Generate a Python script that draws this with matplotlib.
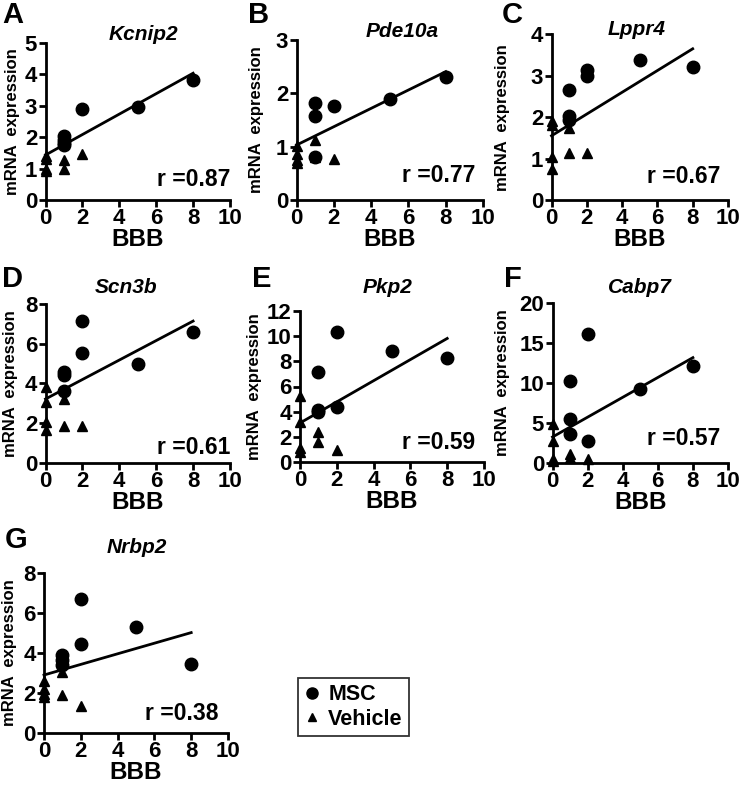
import matplotlib
matplotlib.use("Agg")
import matplotlib.pyplot as plt
from matplotlib.lines import Line2D

plt.rcParams['font.family'] = ['Liberation Sans', 'DejaVu Sans']
plt.rcParams['font.weight'] = 'bold'

# ---------------- data ----------------
panel_letters = ['A', 'B', 'C', 'D', 'E', 'F', 'G']
genes = ['Kcnip2', 'Pde10a', 'Lppr4', 'Scn3b', 'Pkp2', 'Cabp7', 'Nrbp2']
r_labels = ['r =0.87', 'r =0.77', 'r =0.67', 'r =0.61', 'r =0.59', 'r =0.57', 'r =0.38']
y_max = [5, 3, 4, 8, 12, 20, 8]
y_step = [1, 1, 1, 2, 2, 5, 2]
x_ticks = [0, 2, 4, 6, 8, 10]

msc_x = [
    [1, 1, 1, 1, 2, 5, 8],
    [1, 1, 1, 2, 5, 8],
    [1, 1, 1, 2, 2, 5, 8],
    [1, 1, 1, 2, 2, 5, 8],
    [1, 1, 1, 2, 2, 5, 8],
    [1, 1, 1, 2, 2, 5, 8],
    [1, 1, 1, 2, 2, 5, 8],
]
msc_y = [
    [2.02, 1.92, 1.82, 1.75, 2.88, 2.97, 3.83],
    [1.82, 1.57, 0.80, 1.77, 1.90, 2.31],
    [2.65, 2.02, 1.93, 3.13, 3.00, 3.37, 3.20],
    [4.60, 4.45, 3.60, 7.15, 5.55, 5.00, 6.60],
    [7.15, 4.15, 4.00, 10.35, 4.35, 8.85, 8.30],
    [10.2, 5.5, 3.6, 16.1, 2.8, 9.25, 12.1],
    [3.90, 3.65, 3.40, 6.70, 4.43, 5.28, 3.44],
]
veh_x = [
    [0, 0, 0, 0, 1, 1, 2],
    [0, 0, 0, 0, 1, 1, 2],
    [0, 0, 0, 0, 1, 1, 2],
    [0, 0, 0, 0, 1, 1, 2],
    [0, 0, 0, 0, 1, 1, 2],
    [0, 0, 0, 0, 1, 1, 2],
    [0, 0, 0, 0, 1, 1, 2],
]
veh_y = [
    [1.40, 1.30, 1.00, 0.92, 1.27, 1.00, 1.45],
    [1.02, 0.86, 0.75, 0.70, 1.12, 0.80, 0.77],
    [1.90, 1.80, 1.05, 0.75, 1.73, 1.14, 1.14],
    [3.80, 3.05, 2.05, 1.65, 3.20, 1.87, 1.87],
    [5.25, 3.15, 1.10, 0.80, 2.35, 1.55, 0.95],
    [4.90, 2.70, 0.45, 0.30, 1.10, 0.60, 0.50],
    [2.62, 2.22, 1.95, 1.78, 3.07, 1.92, 1.33],
]
fit_intercept = [1.43, 1.03, 1.55, 3.22, 3.10, 3.25, 2.90]
fit_slope = [0.325, 0.172, 0.2625, 0.49, 0.84, 1.24, 0.265]
fit_x_range = [0, 8]

# ---------------- layout (pixels) ----------------
W, H = 742, 786
# (x0 px, x10 px, y0 px, ymax px)
boxes = [
    (45.5, 230, 200, 42.7),
    (296.5, 483, 200, 40),
    (551.5, 728, 200, 34.3),
    (45.5, 230, 463, 304),
    (300, 484, 462, 311),
    (552.5, 728, 463, 303),
    (44, 228, 733, 573),
]
letter_pos = [(2, 23), (248, 23), (502, 23), (2, 287), (252, 287), (504, 287), (5, 548)]
title_pos = [(143, 40), (402, 37), (637, 35), (126, 293), (388, 293), (640, 293), (137, 553)]
ylabel_right = [26, 33, 41, 27, 38.5, 43, 27]   # px from axis to label's right edge
xlabel_top = 28                                  # px from axis to label top
r_pos = [(1.0, 0.13), (0.96, 0.155), (0.955, 0.14), (1.0, 0.10), (0.95, 0.13), (0.955, 0.155), (0.947, 0.125)]

fig = plt.figure(figsize=(W / 100, H / 100), dpi=100)

for i in range(7):
    x0, x1, yb, yt = boxes[i]
    w_px, h_px = x1 - x0, yb - yt
    ax = fig.add_axes([x0 / W, 1 - yb / H, w_px / W, h_px / H])
    ax.plot(msc_x[i], msc_y[i], 'o', color='black', markersize=9, clip_on=False, zorder=3)
    ax.plot(veh_x[i], veh_y[i], '^', color='black', markersize=6.5, clip_on=False, zorder=3)
    fx = fit_x_range
    fy = [fit_intercept[i] + fit_slope[i] * v for v in fx]
    ax.plot(fx, fy, '-', color='black', linewidth=2, clip_on=False, zorder=2)
    ax.set_xlim(0, 10)
    ax.set_ylim(0, y_max[i])
    ax.set_xticks(x_ticks)
    ax.set_yticks(list(range(0, y_max[i] + 1, y_step[i])))
    for s in ['top', 'right']:
        ax.spines[s].set_visible(False)
    for s in ['left', 'bottom']:
        ax.spines[s].set_linewidth(2)
    ax.tick_params(direction='out', length=5, width=2, labelsize=16, pad=1)
    for lab in ax.get_xticklabels() + ax.get_yticklabels():
        lab.set_fontweight('bold')
    ax.set_xlabel('BBB', fontsize=17.5, fontweight='bold')
    ax.xaxis.set_label_coords(0.5, -xlabel_top / h_px)
    ax.set_ylabel('mRNA  expression', fontsize=12, fontweight='bold')
    ax.yaxis.set_label_coords(-ylabel_right[i] / w_px, 0.5)
    tx, ty = title_pos[i]
    fig.text(tx / W, 1 - ty / H, genes[i], fontsize=15, fontweight='bold', style='italic',
             ha='center', va='baseline')
    ax.text(r_pos[i][0], r_pos[i][1], r_labels[i], transform=ax.transAxes,
            ha='right', va='center', fontsize=16.5, fontweight='bold')
    lx, ly = letter_pos[i]
    fig.text(lx / W, 1 - ly / H, panel_letters[i], fontsize=21, fontweight='bold',
             ha='left', va='baseline')

handles = [
    Line2D([], [], marker='o', color='black', linestyle='none', markersize=8),
    Line2D([], [], marker='^', color='black', linestyle='none', markersize=6),
]
leg = fig.legend(handles, ['MSC', 'Vehicle'], loc='upper left',
                 bbox_to_anchor=(298 / W, 1 - 678 / H), borderaxespad=0,
                 frameon=True, fancybox=False,
                 edgecolor='black', prop={'weight': 'bold', 'size': 15.5},
                 handlelength=0.7, handletextpad=0.4, borderpad=0.3, labelspacing=0.15)
leg.get_frame().set_linewidth(1.3)

fig.savefig('out.png', dpi=100)
